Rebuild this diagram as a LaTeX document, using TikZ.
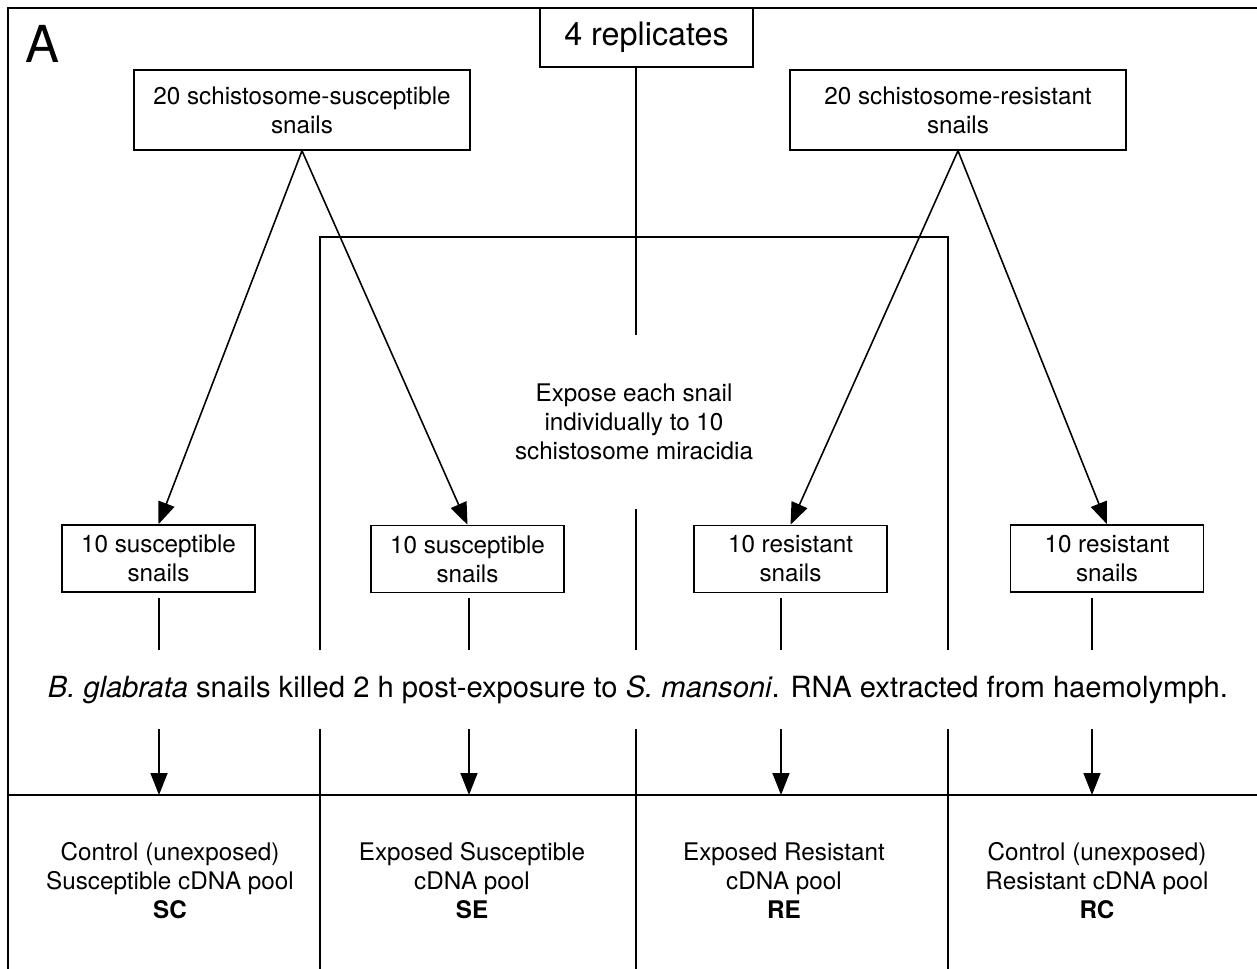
\documentclass[tikz,border=0pt]{standalone}
\usepackage{fontspec}
\setmainfont{TeX Gyre Heros}
\usetikzlibrary{arrows.meta,positioning}
\begin{document}
\begin{tikzpicture}
[x=0.02cm,y=-0.02cm,line width=0.9pt,>={Triangle[length=0.44cm,width=0.34cm]},
stage/.style = {draw, fill = white, align = center, inner sep = 0pt, font = \fontsize{13.8}{16.5}\selectfont},
big/.style = {stage, minimum width = 6.72cm, minimum height = 1.6cm},
small/.style = {stage, minimum width = 3.86cm, minimum height = 1.34cm},
pool/.style = {align = center, font = \fontsize{13.8}{16.5}\selectfont},]
\useasboundingbox (0,0) rectangle (1257,969);
\draw (8,969) -- (8,8) -- (1257,8);
\draw (8,795) -- (1257,795);
\node (A) at (42,44) {\fontsize{29}{30}\selectfont A};
\node (rep) at (646.5,37.5)[stage, minimum width = 4.26cm, minimum height = 1.18cm, font = \fontsize{18.4}{20}\selectfont] {4 replicates};
\node (sus) at (302,110)[big] {\raisebox{-2pt}{20 schistosome-susceptible}\\\raisebox{-2pt}{snails}};
\node (res) at (958,110)[big] {\raisebox{-2pt}{20 schistosome-resistant}\\\raisebox{-2pt}{snails}};
\node (s1) at (158.5,558.5)[small] {10 susceptible\\snails};
\node (s2) at (467.5,559)[small] {10 susceptible\\snails};
\node (r1) at (790.5,559)[small] {10 resistant\\snails};
\node (r2) at (1107,558.5)[small] {10 resistant\\snails};
\node (expose) at (634,422)[pool] {Expose each snail\\individually to 10\\schistosome miracidia};
\node (kill) at (638,690)[font = \fontsize{16.6}{19}\selectfont] {\textit{B. glabrata} snails killed 2 h post-exposure to \textit{S. mansoni}. RNA extracted from haemolymph.};
\node (sc) at (170,881)[pool] {Control (unexposed)\\Susceptible cDNA pool\\\textbf{SC}};
\node (se) at (472,881)[pool] {Exposed Susceptible\\cDNA pool\\\textbf{SE}};
\node (re) at (784,881)[pool] {Exposed Resistant\\cDNA pool\\\textbf{RE}};
\node (rc) at (1097,881)[pool] {Control (unexposed)\\Resistant cDNA pool\\\textbf{RC}};
\coordinate (mid) at (636,335);
\draw[->] (sus.south) -- (s1.north);
\draw[->] (sus.south) -- (s2.north);
\draw[->] (res.south) -- (r1.north);
\draw[->] (res.south) -- (r2.north);
\draw (320,650) -- (320,237) -- (948,237) -- (948,650);
\draw (rep.south -| mid) -- (mid);
\draw (636,509) -- (636,650);
\foreach \x in {320,636,948}
  \draw (\x,729) -- (\x,969);
\foreach \x in {159,469,781,1092}
  {\draw (\x,598) -- (\x,650);
   \draw[->] (\x,729) -- (\x,795);}
\end{tikzpicture}
\end{document}
